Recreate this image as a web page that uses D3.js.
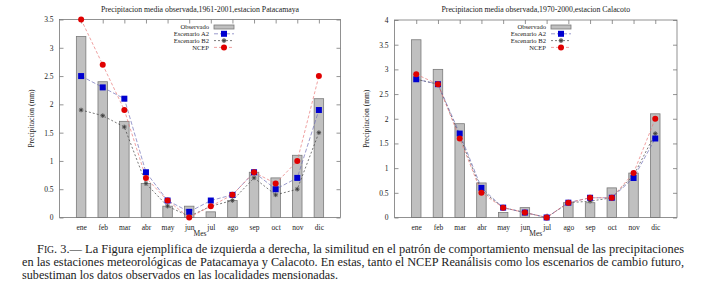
<!DOCTYPE html>
<html><head><meta charset="utf-8">
<script src="https://cdn.jsdelivr.net/npm/d3@7"></script>
<style>
body{margin:0;background:#fff;}
svg{display:block;}
text{font-family:"Liberation Serif","DejaVu Serif",serif;fill:#222;}
</style></head>
<body><svg id="c" width="704" height="288"></svg>
<script>
const months = ["ene","feb","mar","abr","may","jun","jul","ago","sep","oct","nov","dic"];

// Patacamaya 1961-2001
const pataObs  = [3.2, 2.4, 1.7, 0.6, 0.2, 0.2, 0.1, 0.3, 0.8, 0.7, 1.1, 2.1];
const pataA2   = [2.5, 2.3, 2.1, 0.8, 0.3, 0.1, 0.3, 0.4, 0.8, 0.5, 0.7, 1.9];
const pataB2   = [1.9, 1.8, 1.6, 0.6, 0.2, 0.02, 0.2, 0.3, 0.7, 0.4, 0.5, 1.5];
const pataNCEP = [3.5, 2.7, 1.9, 0.7, 0.3, 0.0, 0.2, 0.4, 0.8, 0.6, 1.0, 2.5];

// Calacoto 1970-2000
const calaObs  = [3.6, 3.0, 1.9, 0.7, 0.1, 0.2, 0.0, 0.3, 0.3, 0.6, 0.9, 2.1];
const calaA2   = [2.8, 2.7, 1.7, 0.6, 0.2, 0.1, 0.0, 0.3, 0.4, 0.4, 0.8, 1.6];
const calaB2   = [2.8, 2.7, 1.65, 0.55, 0.2, 0.1, 0.0, 0.3, 0.33, 0.4, 0.85, 1.7];
const calaNCEP = [2.9, 2.7, 1.6, 0.5, 0.2, 0.1, 0.0, 0.3, 0.4, 0.4, 0.9, 2.0];

const pataTicks = ["0","0.5","1","1.5","2","2.5","3","3.5"];
const calaTicks = ["0","0.5","1","1.5","2","2.5","3","3.5","4"];

const legendNames = ["Observado","Escenario A2","Escenario B2","NCEP"];
const titles = ["Precipitacion media observada,1961-2001,estacion Patacamaya",
                "Precipitacion media observada,1970-2000,estacion Calacoto"];
const yLabel = "Precipitacion (mm)";
const xLabel = "Mes";

const svg = d3.select("#c");

const panels = [
  {box:{x0:59.5,x1:340.5,y0:19.5,y1:217.5}, ymax:3.5, ticks:pataTicks, obs:pataObs, a2:pataA2, b2:pataB2, ncep:pataNCEP, title:titles[0], lx:209},
  {box:{x0:394.5,x1:677,y0:20,y1:217.5}, ymax:4, ticks:calaTicks, obs:calaObs, a2:calaA2, b2:calaB2, ncep:calaNCEP, title:titles[1], lx:546}
];

const colA2 = "#0000d0", colA2line = "#7070b8";
const colB2line = "#404040";
const colN = "#e00000", colNline = "#e87878";

function drawStar(g, x, y){
  g.append("circle").attr("cx",x).attr("cy",y).attr("r",2.4).attr("fill","#a8a8a8");
  const s = 2.2;
  g.append("path").attr("d",`M${x-s},${y}L${x+s},${y}M${x},${y-s}L${x},${y+s}M${x-s*0.7},${y-s*0.7}L${x+s*0.7},${y+s*0.7}M${x-s*0.7},${y+s*0.7}L${x+s*0.7},${y-s*0.7}`)
    .attr("stroke","#333").attr("stroke-width",0.7);
}

panels.forEach(p => {
  const b = p.box;
  const x = d3.scaleLinear().domain([0,13]).range([b.x0,b.x1]);
  const y = d3.scaleLinear().domain([0,p.ymax]).range([b.y1,b.y0]);
  const g = svg.append("g");
  const tickVals = p.ticks.map(Number);
  const mIdx = months.map((m,i)=>i+1);

  const styleAxis = sel => {
    sel.select(".domain").remove();
    sel.selectAll("line").attr("stroke","#666").attr("stroke-width",0.7);
    sel.selectAll("text").style("font-family","'Liberation Serif',serif").style("font-size","7.5px").attr("fill","#333");
  };
  g.append("g").attr("transform",`translate(${b.x0},0)`)
    .call(d3.axisLeft(y).tickValues(tickVals).tickFormat((d,i)=>p.ticks[i]).tickSize(-4).tickPadding(6)).call(styleAxis);
  g.append("g").attr("transform",`translate(${b.x1},0)`)
    .call(d3.axisRight(y).tickValues(tickVals).tickFormat("").tickSize(-4)).call(styleAxis);
  g.append("g").attr("transform",`translate(0,${b.y0})`)
    .call(d3.axisTop(x).tickValues(mIdx).tickFormat("").tickSize(-4)).call(styleAxis);
  g.append("g").attr("transform",`translate(0,${b.y1})`)
    .call(d3.axisBottom(x).tickValues(mIdx).tickFormat((d,i)=>months[i]).tickSize(-4).tickPadding(7)).call(styleAxis);

  const bw = 9.5;
  g.selectAll("rect.bar").data(p.obs).join("rect").attr("class","bar")
    .attr("x",(d,i)=>x(i+1)-bw/2).attr("width",bw)
    .attr("y",d=>y(d)).attr("height",d=>y(0)-y(d))
    .attr("fill","#c0c0c0").attr("stroke","#7a7a7a").attr("stroke-width",0.8);

  g.append("rect").attr("x",b.x0).attr("y",b.y0).attr("width",b.x1-b.x0).attr("height",b.y1-b.y0)
    .attr("fill","none").attr("stroke","#777").attr("stroke-width",0.8);

  const line = d3.line().x((d,i)=>x(i+1)).y(d=>y(d));
  g.append("path").datum(p.b2).attr("d",line).attr("fill","none").attr("stroke",colB2line).attr("stroke-width",0.7).attr("stroke-dasharray","2,2");
  g.append("path").datum(p.a2).attr("d",line).attr("fill","none").attr("stroke",colA2line).attr("stroke-width",0.7).attr("stroke-dasharray","4,2");
  g.append("path").datum(p.ncep).attr("d",line).attr("fill","none").attr("stroke",colNline).attr("stroke-width",0.7).attr("stroke-dasharray","3,2");

  p.b2.forEach((d,i)=>drawStar(g,x(i+1),y(d)));
  g.selectAll("rect.a2").data(p.a2).join("rect").attr("class","a2")
    .attr("x",(d,i)=>x(i+1)-3).attr("y",d=>y(d)-3).attr("width",6).attr("height",6).attr("fill",colA2);
  g.selectAll("circle.nc").data(p.ncep).join("circle").attr("class","nc")
    .attr("cx",(d,i)=>x(i+1)).attr("cy",d=>y(d)).attr("r",3).attr("fill",colN);

  g.append("text").attr("x",(b.x0+b.x1)/2).attr("y",12).attr("text-anchor","middle").style("font-size","7.8px").text(p.title);
  g.append("text").attr("x",(b.x0+b.x1)/2).attr("y",236).attr("text-anchor","middle").style("font-size","7.5px").text(xLabel);
  g.append("text").attr("transform",`translate(${b.x0-26},${(b.y0+b.y1)/2}) rotate(-90)`).attr("text-anchor","middle").style("font-size","7.5px").text(yLabel);

  const ly = [27,33.8,40.6,47.4];
  const lx = p.lx;
  legendNames.forEach((n,i)=>{
    g.append("text").attr("x",lx).attr("y",ly[i]+2.2).attr("text-anchor","end").style("font-size","6.6px").text(n);
  });
  g.append("rect").attr("x",lx+5).attr("y",ly[0]-2).attr("width",20).attr("height",4).attr("fill","#c0c0c0").attr("stroke","#7a7a7a").attr("stroke-width",0.8);
  g.append("line").attr("x1",lx+5).attr("x2",lx+25).attr("y1",ly[1]).attr("y2",ly[1]).attr("stroke",colA2line).attr("stroke-width",0.7).attr("stroke-dasharray","4,2");
  g.append("rect").attr("x",lx+12).attr("y",ly[1]-3).attr("width",6).attr("height",6).attr("fill",colA2);
  g.append("line").attr("x1",lx+5).attr("x2",lx+25).attr("y1",ly[2]).attr("y2",ly[2]).attr("stroke",colB2line).attr("stroke-width",0.7).attr("stroke-dasharray","2,2");
  drawStar(g,lx+15,ly[2]);
  g.append("line").attr("x1",lx+5).attr("x2",lx+25).attr("y1",ly[3]).attr("y2",ly[3]).attr("stroke",colNline).attr("stroke-width",0.7).attr("stroke-dasharray","3,2");
  g.append("circle").attr("cx",lx+15).attr("cy",ly[3]).attr("r",3).attr("fill",colN);
});

const cap = svg.append("g").style("font-family","'Liberation Serif',serif").style("font-size","12.2px");
const l1 = cap.append("text").attr("x",37).attr("y",253).attr("textLength",647).attr("lengthAdjust","spacingAndGlyphs");
l1.append("tspan").text("F");
l1.append("tspan").style("font-size","9.5px").text("IG");
l1.append("tspan").text(". 3.— La Figura ejemplifica de izquierda a derecha, la similitud en el patrón de comportamiento mensual de las precipitaciones");
cap.append("text").attr("x",22).attr("y",266).attr("textLength",662).attr("lengthAdjust","spacingAndGlyphs")
  .text("en las estaciones meteorológicas de Patacamaya y Calacoto. En estas, tanto el NCEP Reanálisis como los escenarios de cambio futuro,");
cap.append("text").attr("x",22).attr("y",279).attr("textLength",316).attr("lengthAdjust","spacingAndGlyphs")
  .text("subestiman los datos observados en las localidades mensionadas.");
</script></body></html>
